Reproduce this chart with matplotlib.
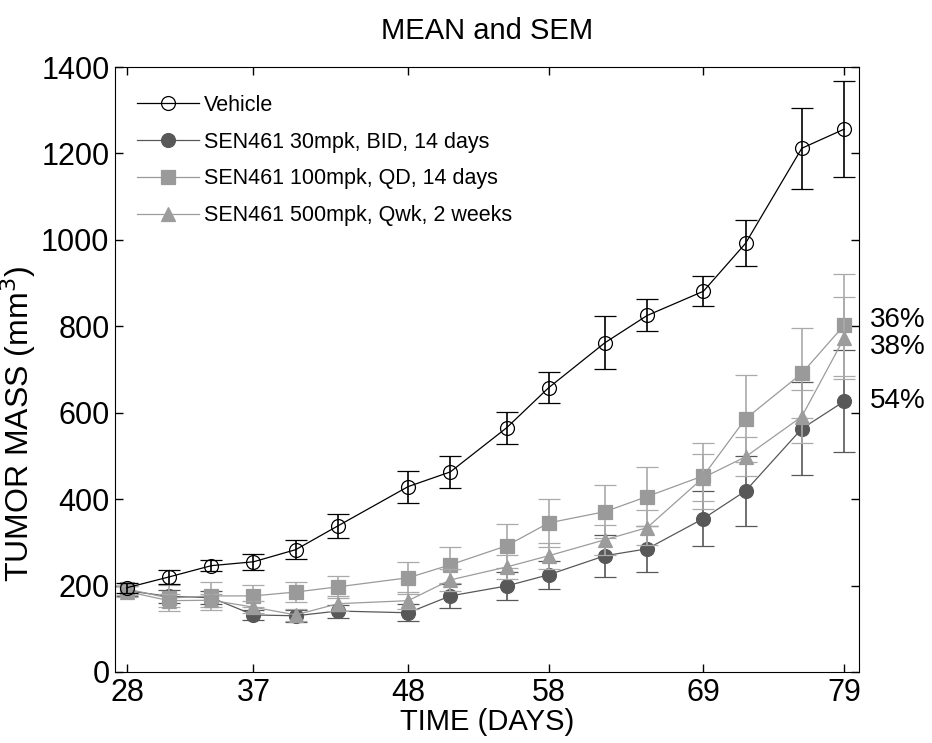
import numpy as np
import matplotlib.pyplot as plt
from matplotlib.lines import Line2D

plt.rcParams['font.family'] = ['Liberation Sans', 'DejaVu Sans']

days = [28, 31, 34, 37, 40, 43, 48, 51, 55, 58, 62, 65, 69, 72, 76, 79]

vehicle = [195, 220, 246, 255, 283, 338, 429, 463, 565, 658, 762, 825, 881, 992, 1212, 1256]
vehicle_sem = [12, 16, 13, 18, 22, 28, 37, 37, 37, 36, 61, 37, 35, 53, 94, 111]

bid30 = [188, 175, 172, 132, 130, 141, 137, 176, 199, 225, 269, 285, 355, 419, 563, 626]
bid30_sem = [12, 15, 15, 12, 14, 15, 20, 28, 32, 32, 49, 53, 63, 81, 107, 118]

qd100 = [192, 171, 176, 176, 185, 197, 218, 248, 292, 345, 371, 406, 454, 586, 691, 802]
qd100_sem = [14, 31, 33, 25, 23, 25, 37, 42, 51, 56, 61, 68, 76, 101, 104, 118]

qwk500 = [186, 165, 166, 150, 132, 158, 165, 213, 243, 269, 306, 334, 450, 498, 591, 772]
qwk500_sem = [12, 15, 15, 14, 14, 18, 20, 25, 28, 30, 35, 40, 55, 45, 62, 95]

labels = ['Vehicle', 'SEN461 30mpk, BID, 14 days', 'SEN461 100mpk, QD, 14 days',
          'SEN461 500mpk, Qwk, 2 weeks']
pct_labels = ['36%', '38%', '54%']
pct_y = [815, 753, 628]

fig = plt.figure(figsize=(9.32, 7.43), dpi=100)
ax = fig.add_axes([0.1234, 0.0956, 0.7983, 0.8142])

# style per group: line colour, errorbar colour, marker
styles = [
    dict(color='black', ecolor='black', marker='o', mfc='none', mec='black', z=6),
    dict(color='#585858', ecolor='#585858', marker='o', mfc='#585858', mec='#585858', z=3),
    dict(color='#9a9a9a', ecolor='#aaaaaa', marker='s', mfc='#9a9a9a', mec='#9a9a9a', z=4),
    dict(color='#9c9c9c', ecolor='#aaaaaa', marker='^', mfc='#9c9c9c', mec='#9c9c9c', z=5),
]
series = [(vehicle, vehicle_sem), (bid30, bid30_sem), (qd100, qd100_sem), (qwk500, qwk500_sem)]

handles = []
for (vals, sem), st in zip(series, styles):
    ax.errorbar(days, vals, yerr=sem, color=st['color'], ecolor=st['ecolor'],
                marker=st['marker'], markersize=10, mfc=st['mfc'], mec=st['mec'], mew=0.9,
                lw=0.9, elinewidth=1.2, capsize=8, capthick=1.2, zorder=st['z'])
    handles.append(Line2D([], [], color=st['color'], marker=st['marker'], markersize=10,
                          mfc=st['mfc'], mec=st['mec'], mew=0.9, lw=0.9))

for txt, yv in zip(pct_labels, pct_y):
    ax.text(80.85, yv, txt, fontsize=20, ha='left', va='center', clip_on=False)

ax.set_xlim(27.15, 80.07)
ax.set_ylim(0, 1400)
ax.set_xticks([28, 37, 48, 58, 69, 79])
ax.set_yticks(np.arange(0, 1401, 200))
ax.tick_params(direction='in', length=6, width=1, top=True, right=True,
               labelsize=22, pad=4)
ax.set_xlabel('TIME (DAYS)', fontsize=21, labelpad=0)
ax.set_ylabel('TUMOR MASS (mm$^3$)', fontsize=23)
ax.yaxis.set_label_coords(-0.103, 0.41)
ax.set_title('MEAN and SEM', fontsize=21, pad=20)

ax.legend(handles, labels, loc='upper left', frameon=False, fontsize=15.5,
          handlelength=2.9, labelspacing=0.74, handletextpad=0.25,
          borderaxespad=0.6, bbox_to_anchor=(0.0, 0.99))

fig.savefig('out.png', dpi=100)
